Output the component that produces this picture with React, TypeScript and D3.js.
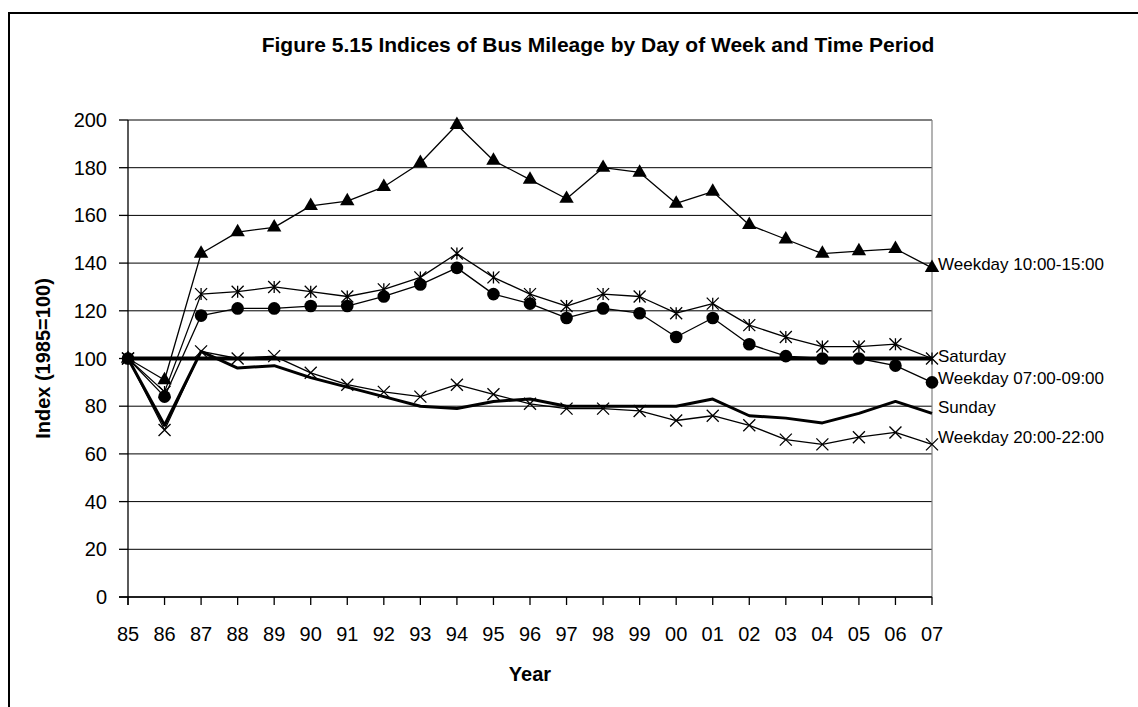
import React from 'react';
import * as d3 from 'd3';

const years = ['85','86','87','88','89','90','91','92','93','94','95','96','97','98','99','00','01','02','03','04','05','06','07'];
const yTicks = [0,20,40,60,80,100,120,140,160,180,200];

const weekday1015 = [100,91,144,153,155,164,166,172,182,198,183,175,167,180,178,165,170,156,150,144,145,146,138];
const saturday    = [100,86,127,128,130,128,126,129,134,144,134,127,122,127,126,119,123,114,109,105,105,106,100];
const weekday0709 = [100,84,118,121,121,122,122,126,131,138,127,123,117,121,119,109,117,106,101,100,100,97,90];
const sunday      = [100,72,103,96,97,92,88,84,80,79,82,83,80,80,80,80,83,76,75,73,77,82,77];
const weekday2022 = [100,70,103,100,101,94,89,86,84,89,85,81,79,79,78,74,76,72,66,64,67,69,64];
const baseline    = [100,100,100,100,100,100,100,100,100,100,100,100,100,100,100,100,100,100,100,100,100,100,100];

const title = 'Figure 5.15 Indices of Bus Mileage by Day of Week and Time Period';
const xTitle = 'Year';
const yTitle = 'Index (1985=100)';

type Marker = 'triangle' | 'circle' | 'asterisk' | 'x' | 'none';
const series: { name: string; values: number[]; marker: Marker; width: number; label: boolean; labelDy: number }[] = [
  { name: 'baseline', values: baseline, marker: 'none', width: 4, label: false, labelDy: 0 },
  { name: 'Sunday', values: sunday, marker: 'none', width: 3, label: true, labelDy: -6 },
  { name: 'Weekday 20:00-22:00', values: weekday2022, marker: 'x', width: 1.3, label: true, labelDy: -7 },
  { name: 'Weekday 07:00-09:00', values: weekday0709, marker: 'circle', width: 1.3, label: true, labelDy: -4 },
  { name: 'Saturday', values: saturday, marker: 'asterisk', width: 1.3, label: true, labelDy: -2 },
  { name: 'Weekday 10:00-15:00', values: weekday1015, marker: 'triangle', width: 1.3, label: true, labelDy: -4 },
];

const FONT = '"Liberation Sans", Arial, sans-serif';

function markerPath(m: Marker): string {
  const r = 6;
  if (m === 'triangle') return d3.symbol(d3.symbolTriangle, 90)() || '';
  if (m === 'circle') return d3.symbol(d3.symbolCircle, 125)() || '';
  if (m === 'asterisk') return `M0,${-r}L0,${r}M${-r},${-r}L${r},${r}M${-r},${r}L${r},${-r}`;
  if (m === 'x') return `M${-r},${-r}L${r},${r}M${-r},${r}L${r},${-r}`;
  return '';
}

export default function App() {
  const left = 128, right = 932, top = 120, bottom = 597;
  const x = d3.scalePoint<string>().domain(years).range([left, right]);
  const y = d3.scaleLinear().domain([0, 200]).range([bottom, top]);
  const line = d3.line<number>().x((_, i) => x(years[i]) as number).y(d => y(d));

  return (
    <svg width={1138} height={707} style={{ position: 'absolute', left: 0, top: 0, background: '#fff' }} fontFamily={FONT}>
      <rect x={0} y={0} width={1138} height={707} fill="#fff" />
      <rect x={9} y={13} width={1300} height={900} fill="none" stroke="#000" strokeWidth={2} />
      <text x={598} y={52} textAnchor="middle" fontSize={21} fontWeight="bold">{title}</text>

      {yTicks.map(t => (
        <line key={'g' + t} x1={left} x2={right} y1={y(t)} y2={y(t)} stroke="#000" strokeWidth={1} />
      ))}
      <line x1={right} x2={right} y1={top} y2={bottom} stroke="#808080" strokeWidth={1.2} />
      <line x1={left} x2={right} y1={top} y2={top} stroke="#808080" strokeWidth={1.2} />
      <line x1={left} x2={left} y1={top} y2={bottom + 8} stroke="#000" strokeWidth={1.3} />
      <line x1={left - 9} x2={right} y1={bottom} y2={bottom} stroke="#000" strokeWidth={1.3} />

      {yTicks.map(t => (
        <g key={'yt' + t}>
          <line x1={left - 9} x2={left} y1={y(t)} y2={y(t)} stroke="#000" strokeWidth={1.3} />
          <text x={107} y={y(t)} dy="0.35em" textAnchor="end" fontSize={20}>{t}</text>
        </g>
      ))}
      {years.map(yr => (
        <g key={'xt' + yr}>
          <line x1={x(yr)} x2={x(yr)} y1={bottom} y2={bottom + 8} stroke="#000" strokeWidth={1.3} />
          <text x={x(yr)} y={641} textAnchor="middle" fontSize={20}>{yr}</text>
        </g>
      ))}
      <text x={530} y={681} textAnchor="middle" fontSize={20} fontWeight="bold">{xTitle}</text>
      <text transform={`translate(50,${(top + bottom) / 2}) rotate(-90)`} textAnchor="middle" fontSize={20} fontWeight="bold">{yTitle}</text>

      {series.map(s => (
        <g key={s.name}>
          <path d={line(s.values) || ''} fill="none" stroke="#000" strokeWidth={s.width} strokeLinejoin="round" />
          {s.marker !== 'none' && s.values.map((v, i) => (
            <path key={i} d={markerPath(s.marker)} transform={`translate(${x(years[i])},${y(v)})`}
              fill={s.marker === 'triangle' || s.marker === 'circle' ? '#000' : 'none'}
              stroke="#000" strokeWidth={s.marker === 'triangle' || s.marker === 'circle' ? 0 : 1.3} />
          ))}
          {s.label && (
            <text x={right + 6} y={y(s.values[s.values.length - 1]) + s.labelDy} dy="0.35em" fontSize={17}>{s.name}</text>
          )}
        </g>
      ))}
    </svg>
  );
}
